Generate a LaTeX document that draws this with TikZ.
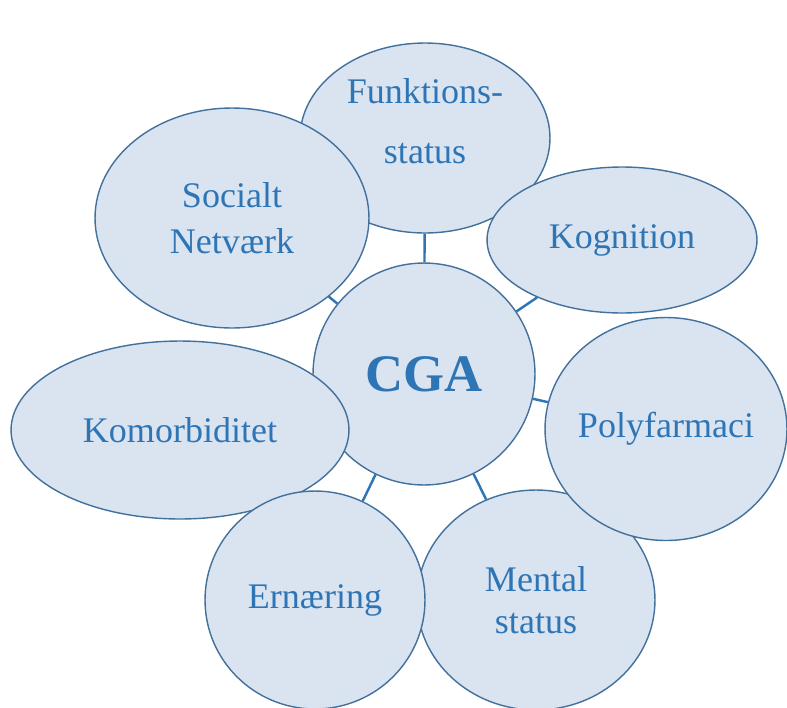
\documentclass[tikz,border=0pt]{standalone}
\usepackage{fontspec}
\setmainfont{Liberation Serif}
\usetikzlibrary{shapes.geometric}
\definecolor{bubblefill}{RGB}{218,227,240}
\definecolor{bubbleedge}{RGB}{65,113,156}
\definecolor{cgablue}{RGB}{46,117,182}
\tikzstyle{bubble} = [ellipse, draw=bubbleedge, line width=0.8pt, fill=bubblefill,
                       inner sep=-2mm, align=center, text=cgablue,
                       font=\fontsize{20.5}{24}\selectfont]
\tikzstyle{link}   = [draw=cgablue, line width=1.4pt]

\begin{document}
\begin{tikzpicture}[x=0.02cm, y=-0.02cm]
    \useasboundingbox (0,0) rectangle (787,707);

    \node[bubble, minimum width=5cm, minimum height=3.8cm]    (funk) at (425,138)
      {Funktions-\\[10pt]status\rule[-0.68cm]{0pt}{0pt}};
    \node[bubble, minimum width=5.4cm, minimum height=2.92cm] (kog)  at (622,240)
      {Kognition};
    \node[bubble, minimum width=5.48cm, minimum height=4.4cm] (soc)  at (232,218)
      {Socialt\\[2pt]Netværk};
    \node[bubble, minimum width=4.44cm, minimum height=4.44cm,
          font=\fontsize{30}{34}\selectfont\bfseries]          (cga)  at (424,374)
      {CGA};
    \node[bubble, minimum width=6.76cm, minimum height=3.56cm] (kom) at (180,430)
      {Komorbiditet};
    \node[bubble, minimum width=4.76cm, minimum height=4.4cm]  (ment) at (536,600)
      {Mental\\status};
    \node[bubble, minimum width=4.84cm, minimum height=4.46cm] (poly) at (666,429)
      {Polyfarmaci};
    \node[bubble, minimum width=4.4cm, minimum height=4.36cm]  (ern)  at (315,600)
      {Ernæring};

    \draw[link] (cga) -- (funk);
    \draw[link] (cga) -- (soc);
    \draw[link] (cga) -- (kog);
    \draw[link] (cga) -- (poly);
    \draw[link] (cga) -- (ment);
    \draw[link] (cga) -- (ern);
\end{tikzpicture}
\end{document}
